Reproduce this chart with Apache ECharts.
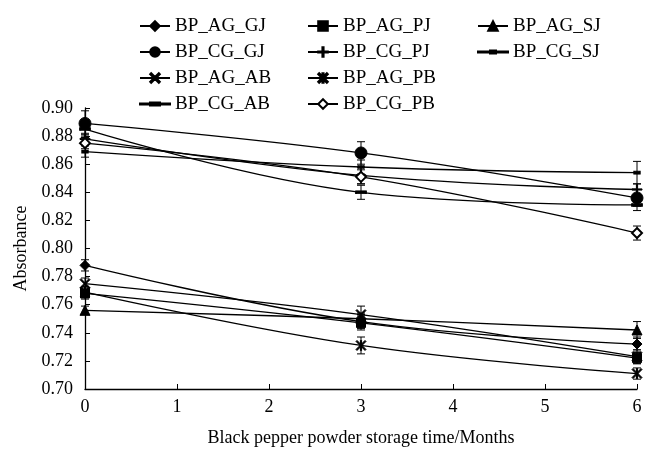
<!DOCTYPE html>
<html>
<head>
<meta charset="utf-8">
<script src="https://cdn.jsdelivr.net/npm/echarts@6/dist/echarts.min.js"></script>
<style>
  html, body { margin: 0; background: #fff; }
  #chart { width: 646px; height: 452px; }
</style>
</head>
<body>
<div id="chart"></div>
<script>
// storage time (months)
const months = [0, 3, 6]
const yTicks = ['0.70', '0.72', '0.74', '0.76', '0.78', '0.80', '0.82', '0.84', '0.86', '0.88', '0.90']

// absorbance
const AG_GJ = [0.788, 0.748, 0.732]
const AG_PJ = [0.768, 0.747, 0.722]
const AG_SJ = [0.756, 0.750, 0.742]
const CG_GJ = [0.889, 0.868, 0.836]
const CG_PJ = [0.878, 0.852, 0.842]
const CG_SJ = [0.869, 0.858, 0.854]
const AG_AB = [0.775, 0.753, 0.723]
const AG_PB = [0.769, 0.731, 0.711]
const CG_AB = [0.885, 0.840, 0.831]
const CG_PB = [0.875, 0.851, 0.811]

// error bar half-widths
const AG_GJ_err = [0.004, 0.005, 0.005]
const AG_PJ_err = [0.004, 0.005, 0.004]
const AG_SJ_err = [0.003, 0.004, 0.006]
const CG_GJ_err = [0.009, 0.008, 0.006]
const CG_PJ_err = [0.004, 0.006, 0.004]
const CG_SJ_err = [0.004, 0.005, 0.008]
const AG_AB_err = [0.004, 0.006, 0.005]
const AG_PB_err = [0.004, 0.006, 0.004]
const CG_AB_err = [0.004, 0.005, 0.004]
const CG_PB_err = [0.004, 0.005, 0.005]

const FONT = 'Liberation Serif'

const plus = 'path://M-0.12,-1H0.12V-0.12H1V0.12H0.12V1H-0.12V0.12H-1V-0.12H-0.12Z'
const cross = 'path://M-1,-0.8L-0.8,-1L1,0.8L0.8,1Z M0.8,-1L1,-0.8L-0.8,1L-1,0.8Z'
const star = 'path://M-1,-0.8L-0.8,-1L1,0.8L0.8,1Z M0.8,-1L1,-0.8L-0.8,1L-1,0.8Z M-0.12,-1H0.12V1H-0.12Z'
// legend icons for the dash markers (line + small dash)
const dashIconS = 'path://M0,2.5H30V3.5H0Z M12,1.5H18V4.5H12Z'
const dashIconL = 'path://M0,2.5H30V3.5H0Z M10,1.5H20V4.5H10Z'

const defs = [
  { name: 'BP_AG_GJ', v: AG_GJ, e: AG_GJ_err, symbol: 'diamond', size: 10 },
  { name: 'BP_AG_PJ', v: AG_PJ, e: AG_PJ_err, symbol: 'rect', size: 9 },
  { name: 'BP_AG_SJ', v: AG_SJ, e: AG_SJ_err, symbol: 'triangle', size: 10 },
  { name: 'BP_CG_GJ', v: CG_GJ, e: CG_GJ_err, symbol: 'circle', size: 12 },
  { name: 'BP_CG_PJ', v: CG_PJ, e: CG_PJ_err, symbol: plus, size: 10 },
  { name: 'BP_CG_SJ', v: CG_SJ, e: CG_SJ_err, symbol: 'rect', size: [6, 3] },
  { name: 'BP_AG_AB', v: AG_AB, e: AG_AB_err, symbol: cross, size: 10 },
  { name: 'BP_AG_PB', v: AG_PB, e: AG_PB_err, symbol: star, size: 10 },
  { name: 'BP_CG_AB', v: CG_AB, e: CG_AB_err, symbol: 'rect', size: [10, 3] },
  { name: 'BP_CG_PB', v: CG_PB, e: CG_PB_err, symbol: 'emptyDiamond', size: 10 }
]

const series = []
defs.forEach(d => {
  series.push({
    name: d.name,
    type: 'line',
    smooth: 0.4,
    data: months.map((m, i) => [m, d.v[i]]),
    symbol: d.symbol,
    symbolSize: d.size,
    lineStyle: { color: '#000', width: 1.3 },
    itemStyle: { color: '#000', borderColor: '#000', borderWidth: 1 },
    z: 3
  })
  series.push({
    type: 'custom',
    name: d.name + '_err',
    data: months.map((m, i) => [m, d.v[i], d.e[i]]),
    renderItem: (params, api) => {
      const x = api.value(0), y = api.value(1), e = api.value(2)
      const top = api.coord([x, y + e])
      const bot = api.coord([x, y - e])
      const w = 4
      const st = { stroke: '#000', lineWidth: 1 }
      return {
        type: 'group',
        children: [
          { type: 'line', shape: { x1: top[0], y1: top[1], x2: bot[0], y2: bot[1] }, style: st },
          { type: 'line', shape: { x1: top[0] - w, y1: top[1], x2: top[0] + w, y2: top[1] }, style: st },
          { type: 'line', shape: { x1: bot[0] - w, y1: bot[1], x2: bot[0] + w, y2: bot[1] }, style: st }
        ]
      }
    },
    z: 2,
    silent: true
  })
})

const legendBase = {
  orient: 'vertical',
  top: 11,
  itemWidth: 30,
  itemHeight: 12,
  itemGap: 6,
  textStyle: { fontFamily: FONT, fontSize: 19, color: '#000', lineHeight: 20 }
}

const option = {
  animation: false,
  legend: [
    Object.assign({}, legendBase, {
      left: 134,
      data: ['BP_AG_GJ', 'BP_CG_GJ', 'BP_AG_AB', { name: 'BP_CG_AB', icon: dashIconL }]
    }),
    Object.assign({}, legendBase, {
      left: 302,
      data: ['BP_AG_PJ', 'BP_CG_PJ', 'BP_AG_PB', 'BP_CG_PB']
    }),
    Object.assign({}, legendBase, {
      left: 472,
      data: ['BP_AG_SJ', { name: 'BP_CG_SJ', icon: dashIconS }]
    })
  ],
  grid: { left: 85, right: 9, top: 108, bottom: 59 },
  xAxis: {
    type: 'value',
    min: 0,
    max: 6,
    interval: 1,
    name: 'Black pepper powder storage time/Months',
    nameLocation: 'middle',
    nameGap: 40,
    nameTextStyle: { fontFamily: FONT, fontSize: 18, color: '#000' },
    axisLine: { lineStyle: { color: '#000', width: 1.3 } },
    axisTick: { inside: true, length: 5, lineStyle: { color: '#000' } },
    axisLabel: { fontFamily: FONT, fontSize: 18, color: '#000', margin: 9 },
    splitLine: { show: false }
  },
  yAxis: {
    type: 'value',
    min: 0.70,
    max: 0.90,
    interval: 0.02,
    name: 'Absorbance',
    nameLocation: 'middle',
    nameGap: 55,
    nameTextStyle: { fontFamily: FONT, fontSize: 18, color: '#000' },
    axisLine: { show: true, lineStyle: { color: '#000', width: 1.3 } },
    axisTick: { show: true, inside: true, length: 5, lineStyle: { color: '#000' } },
    axisLabel: {
      fontFamily: FONT, fontSize: 18, color: '#000', margin: 12,
      formatter: v => yTicks[Math.round((v - 0.70) / 0.02)]
    },
    splitLine: { show: false }
  },
  series: series
}

const chart = echarts.init(document.getElementById('chart'))
chart.setOption(option)
</script>
</body>
</html>
